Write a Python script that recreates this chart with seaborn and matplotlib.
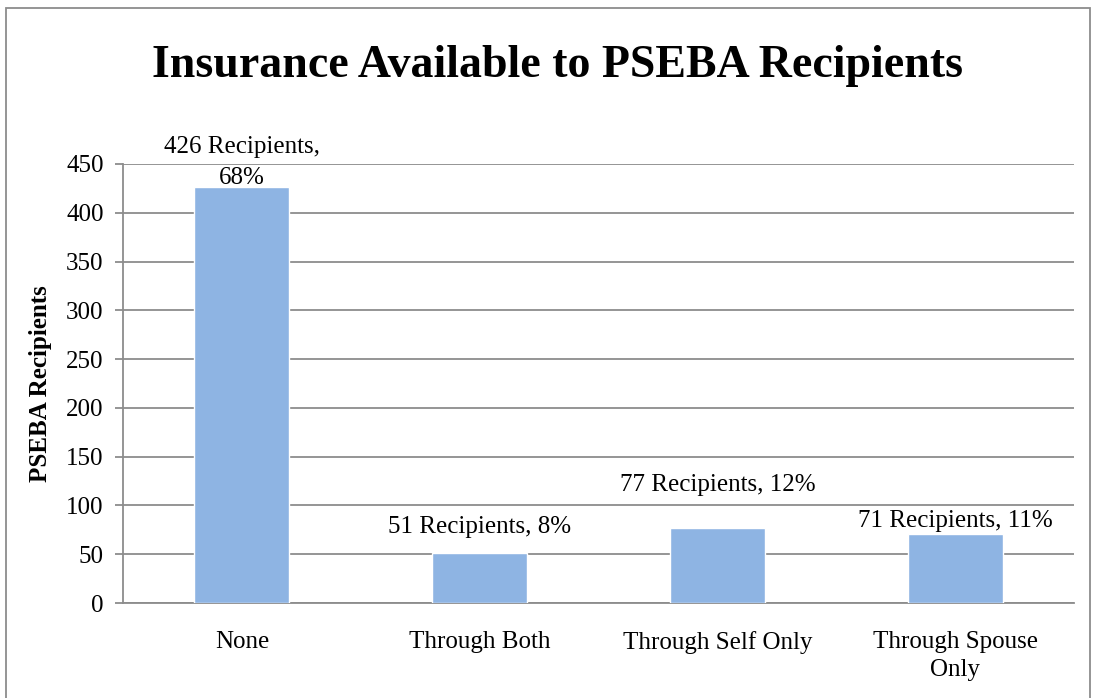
import matplotlib
matplotlib.use("Agg")
import matplotlib.pyplot as plt
import seaborn as sns
import pandas as pd
from matplotlib.patches import Rectangle

# data
categories = ["None", "Through Both", "Through Self Only", "Through Spouse\nOnly"]
recipients = [426, 51, 77, 71]
percents = [68, 8, 12, 11]
label_texts = ["426 Recipients,\n68%", "51 Recipients, 8%", "77 Recipients, 12%", "71 Recipients, 11%"]
yticks = [0, 50, 100, 150, 200, 250, 300, 350, 400, 450]

# styling
bar_color = "#8EB4E3"
grid_color = "#8C8C8C"
label_offsets = [18, 19, 31, 9]  # points above bar top

sns.set_style("white")
plt.rcParams["font.family"] = ["Liberation Serif", "DejaVu Serif"]
plt.rcParams["text.color"] = "black"
plt.rcParams["xtick.color"] = "black"
plt.rcParams["ytick.color"] = "black"
plt.rcParams["axes.labelcolor"] = "black"

df = pd.DataFrame({"category": categories, "recipients": recipients})

fig = plt.figure(figsize=(10.99, 6.98), dpi=100)
ax = fig.add_axes([0.1119, 0.1361, 0.8653, 0.629])

sns.barplot(data=df, x="category", y="recipients", color=bar_color,
            width=0.4, saturation=1, ax=ax, zorder=3)

ax.set_ylim(0, 450)
ax.set_xlim(-0.5, len(categories) - 0.5)
ax.set_yticks(yticks)
ax.yaxis.grid(True, color=grid_color, linewidth=1.3, zorder=0)
ax.set_axisbelow(True)

# category boundary ticks on x, like Excel
ax.set_xticks(range(len(categories)))
ax.set_xticks([i - 0.5 for i in range(len(categories) + 1)], minor=True)
ax.tick_params(axis="x", which="major", length=0, labelsize=18, pad=20)
ax.tick_params(axis="x", which="minor", length=6, width=1.3, color=grid_color)
ax.tick_params(axis="y", length=6, width=1.3, color=grid_color, labelcolor="black",
               labelsize=18, pad=8, left=True)
ax.set_xticklabels(categories, linespacing=1.35)

for side in ["top", "right"]:
    ax.spines[side].set_visible(False)
for side in ["left", "bottom"]:
    ax.spines[side].set_color(grid_color)
    ax.spines[side].set_linewidth(1.3)

ax.set_xlabel("")
ax.set_ylabel("PSEBA Recipients", fontsize=18, fontweight="bold", labelpad=10)

for i, (val, txt) in enumerate(zip(recipients, label_texts)):
    ax.annotate(txt, xy=(i, val), xytext=(0, label_offsets[i]), textcoords="offset points",
                ha="center", va="center", fontsize=18, linespacing=1.55, zorder=5)

fig.text(0.507, 0.905, "Insurance Available to PSEBA Recipients", ha="center", va="center",
         fontsize=33, fontweight="bold")

# outer chart frame
fig.patches.append(Rectangle((6 / 1099, -0.02), 1084 / 1099, 1.0085,
                             transform=fig.transFigure, fill=False,
                             edgecolor="#8C8C8C", linewidth=1.3))

fig.savefig("out.png", dpi=100)
